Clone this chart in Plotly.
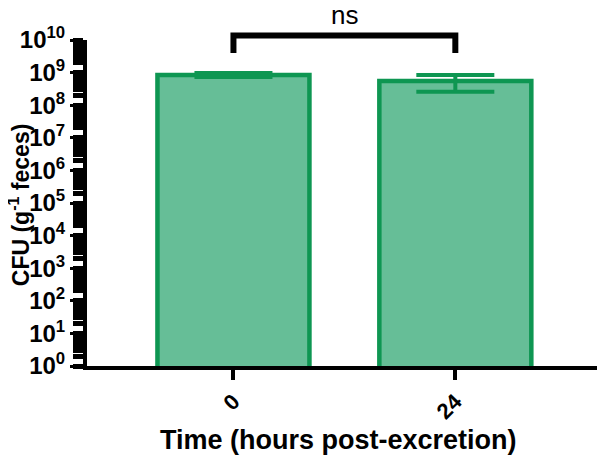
import plotly.graph_objects as go

categories = ["0", "24"]
means = [8.5e8, 5.5e8]
sds = [1.2e8, 2.9e8]
ytick_vals = [1, 1e1, 1e2, 1e3, 1e4, 1e5, 1e6, 1e7, 1e8, 1e9, 1e10]
ytick_text = ["10<sup>%d</sup>" % i for i in range(11)]

green_fill = "rgb(102,190,151)"
green_line = "rgb(14,150,82)"
font_family = "Liberation Sans, Arial, sans-serif"

fig = go.Figure()
fig.add_trace(go.Bar(
    x=categories, y=means,
    width=0.685,
    marker=dict(color=green_fill, line=dict(color=green_line, width=4.5)),
    error_y=dict(type="data", array=sds, visible=True, color=green_line,
                 thickness=4, width=39),
))

# significance bracket
fig.add_shape(type="path", xref="x", yref="paper",
              path="M 0,0.96 L 0,1.0138 L 1,1.0138 L 1,0.96",
              line=dict(color="black", width=6))
fig.add_annotation(x=0.5, xref="x", y=1.078, yref="paper", text="ns",
                   yanchor="middle", showarrow=False,
                   font=dict(size=26, color="black", family=font_family))

# axis titles as annotations
fig.add_annotation(x=-0.131, xref="paper", y=0.494, yref="paper",
                   text="<b>CFU (g<sup>-1</sup> feces)</b>", textangle=-90,
                   xanchor="center", yanchor="middle", showarrow=False,
                   font=dict(size=23, color="black", family=font_family))
fig.add_annotation(x=0.487, xref="paper", y=-0.227, yref="paper",
                   text="<b>Time (hours post-excretion)</b>",
                   xanchor="center", yanchor="middle", showarrow=False,
                   font=dict(size=27, color="black", family=font_family))

# page body adds an 8px offset, so the figure is sized 8px smaller
fig.update_layout(
    width=597, height=452,
    margin=dict(l=79, r=1, t=32, b=94),
    plot_bgcolor="white", paper_bgcolor="white",
    showlegend=False,
    font=dict(family=font_family, color="black"),
    xaxis=dict(
        type="category", range=[-0.66, 1.67], automargin=False,
        showline=True, linecolor="black", linewidth=4,
        ticks="outside", ticklen=10, tickwidth=4, tickcolor="black",
        tickangle=-45, tickfont=dict(size=22, family=font_family, weight="bold"),
        showgrid=False, zeroline=False,
    ),
    yaxis=dict(
        type="log", range=[0, 10], automargin=False,
        showline=True, linecolor="black", linewidth=4,
        ticks="outside", ticklen=13, tickwidth=3, tickcolor="black",
        tickvals=ytick_vals, ticktext=ytick_text, ticklabelstandoff=0,
        tickfont=dict(size=24, family=font_family, weight="bold"),
        minor=dict(ticks="outside", ticklen=10, tickwidth=5, tickcolor="black",
                   dtick="D1", showgrid=False),
        showgrid=False, zeroline=False,
    ),
)

fig.write_html("out.html")
